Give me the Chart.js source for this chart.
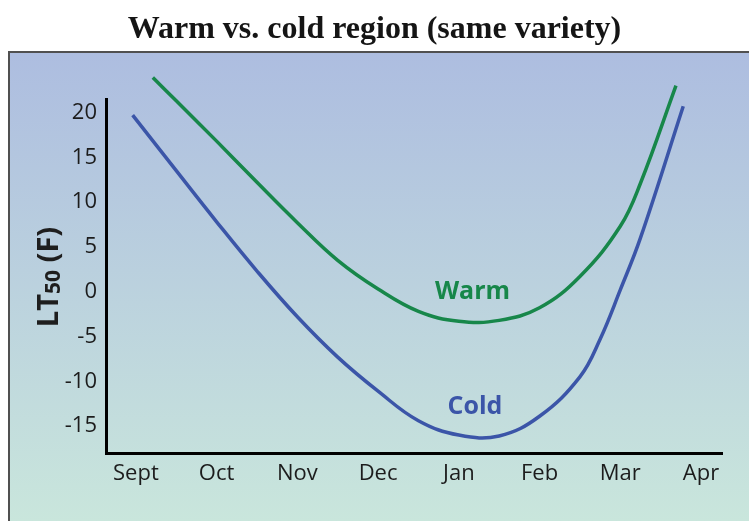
<!DOCTYPE html>
<html>
<head>
<meta charset="utf-8">
<style>
  html, body { margin: 0; padding: 0; background: #ffffff; }
  #wrap { width: 749px; height: 521px; }
</style>
<script src="https://cdn.jsdelivr.net/npm/chart.js@4.4.1/dist/chart.umd.min.js"></script>
</head>
<body>
<div id="wrap"><canvas id="c" width="749" height="521"></canvas></div>
<script>
// Month labels along the season, one per integer position on the x axis
const months = ['Sept', 'Oct', 'Nov', 'Dec', 'Jan', 'Feb', 'Mar', 'Apr'];
const yTicks = [20, 15, 10, 5, 0, -5, -10, -15];

// Warm region LT50 (°F), x in months after the start of September
const warmX = [0.21, 0.5, 1.0, 1.5, 2.0, 2.5, 3.0, 3.5, 4.0, 4.5, 5.0, 5.5, 6.0, 6.25, 6.69];
const warmY = [23.9, 21.3, 16.8, 12.2, 7.7, 3.5, 0.3, -2.2, -3.3, -3.2, -1.8, 1.7, 7.3, 12.1, 23.0];

// Cold region LT50 (°F)
const coldX = [-0.04, 0.5, 1.0, 1.5, 2.0, 2.5, 3.0, 3.5, 4.0, 4.5, 5.0, 5.5, 5.75, 6.0, 6.25, 6.78];
const coldY = [19.7, 13.5, 7.8, 2.3, -2.8, -7.3, -11.1, -14.4, -16.0, -16.1, -13.9, -9.5, -5.3, 0.2, 6.0, 20.7];

const seriesNames = ['Warm', 'Cold'];
const seriesColors = ['#17874a', '#3b55a8'];
// Where each series name sits, in data units
const labelX = [4.17, 4.2];
const labelY = [0.0, -12.9];

const toPoints = (xs, ys) => xs.map((x, i) => ({ x: x, y: ys[i] }));

// Framed panel with a blue-to-green wash behind the plot
const panelPlugin = {
  id: 'panel',
  beforeDraw(chart) {
    const ctx = chart.ctx;
    ctx.save();
    ctx.fillStyle = '#ffffff';
    ctx.fillRect(0, 0, chart.width, chart.height);
    const top = 52, left = 9;
    const g = ctx.createLinearGradient(0, top, 0, chart.height);
    g.addColorStop(0, '#adbde0');
    g.addColorStop(1, '#c9e6dc');
    ctx.fillStyle = g;
    ctx.fillRect(left, top, chart.width + 20, chart.height + 20);
    ctx.strokeStyle = '#505050';
    ctx.lineWidth = 2;
    ctx.strokeRect(left, top, chart.width + 20, chart.height + 20);
    ctx.restore();
  },
  afterDraw(chart) {
    const ctx = chart.ctx;
    const xs = chart.scales.x, ys = chart.scales.y;
    ctx.save();
    // y axis title: LT with subscript 50, then (F)
    ctx.translate(58, 277);
    ctx.rotate(-Math.PI / 2);
    ctx.fillStyle = '#1e1e1e';
    ctx.textBaseline = 'alphabetic';
    const big = 'bold 29px "Open Sans"';
    const small = 'bold 21px "Open Sans"';
    const parts = [['LT', big, 0], ['50', small, 2], [' (F)', big, 0]];
    let total = 0;
    parts.forEach(p => { ctx.font = p[1]; total += ctx.measureText(p[0]).width; });
    let cx = -total / 2;
    parts.forEach(p => {
      ctx.font = p[1];
      ctx.fillText(p[0], cx, p[2]);
      cx += ctx.measureText(p[0]).width;
    });
    ctx.restore();

    // series names next to their curves
    ctx.save();
    ctx.font = 'bold 25px "Open Sans"';
    ctx.textAlign = 'center';
    ctx.textBaseline = 'middle';
    seriesNames.forEach((n, i) => {
      ctx.fillStyle = seriesColors[i];
      ctx.fillText(n, xs.getPixelForValue(labelX[i]), ys.getPixelForValue(labelY[i]));
    });
    ctx.restore();
  }
};

new Chart(document.getElementById('c'), {
  type: 'line',
  data: {
    datasets: [
      {
        label: seriesNames[0],
        data: toPoints(warmX, warmY),
        borderColor: seriesColors[0],
        borderWidth: 3.5,
        pointRadius: 0,
        tension: 0.4,
        fill: false,
        clip: false
      },
      {
        label: seriesNames[1],
        data: toPoints(coldX, coldY),
        borderColor: seriesColors[1],
        borderWidth: 3.5,
        pointRadius: 0,
        tension: 0.4,
        fill: false,
        clip: false
      }
    ]
  },
  options: {
    responsive: false,
    animation: false,
    layout: { padding: { left: 27, right: 27, top: 0, bottom: 0 } },
    plugins: {
      legend: { display: false },
      tooltip: { enabled: false },
      title: {
        display: true,
        text: 'Warm vs. cold region (same variety)',
        color: '#151515',
        font: { family: '"Liberation Serif"', size: 32, weight: 'bold', lineHeight: 1.2 },
        padding: { top: 10.3, bottom: 50.3 }
      }
    },
    scales: {
      x: {
        type: 'linear',
        min: -0.37,
        max: 7.26,
        afterBuildTicks: (s) => { s.ticks = months.map((m, i) => ({ value: i })); },
        afterFit: (s) => { s.height = 68; },
        grid: { display: false, drawTicks: false },
        border: { display: true, color: '#000000', width: 3 },
        ticks: {
          autoSkip: false,
          maxRotation: 0,
          padding: 8,
          color: '#1c1c1c',
          font: { family: '"Open Sans"', size: 22 },
          callback: (v) => months[v]
        }
      },
      y: {
        min: -18,
        max: 21.5,
        afterBuildTicks: (s) => { s.ticks = yTicks.map(v => ({ value: v })); },
        afterFit: (s) => { s.width = 79; },
        grid: { display: false, drawTicks: false },
        border: { display: true, color: '#000000', width: 3 },
        ticks: {
          padding: 9,
          color: '#1c1c1c',
          font: { family: '"Open Sans"', size: 22 }
        }
      }
    }
  },
  plugins: [panelPlugin]
});
</script>
</body>
</html>
